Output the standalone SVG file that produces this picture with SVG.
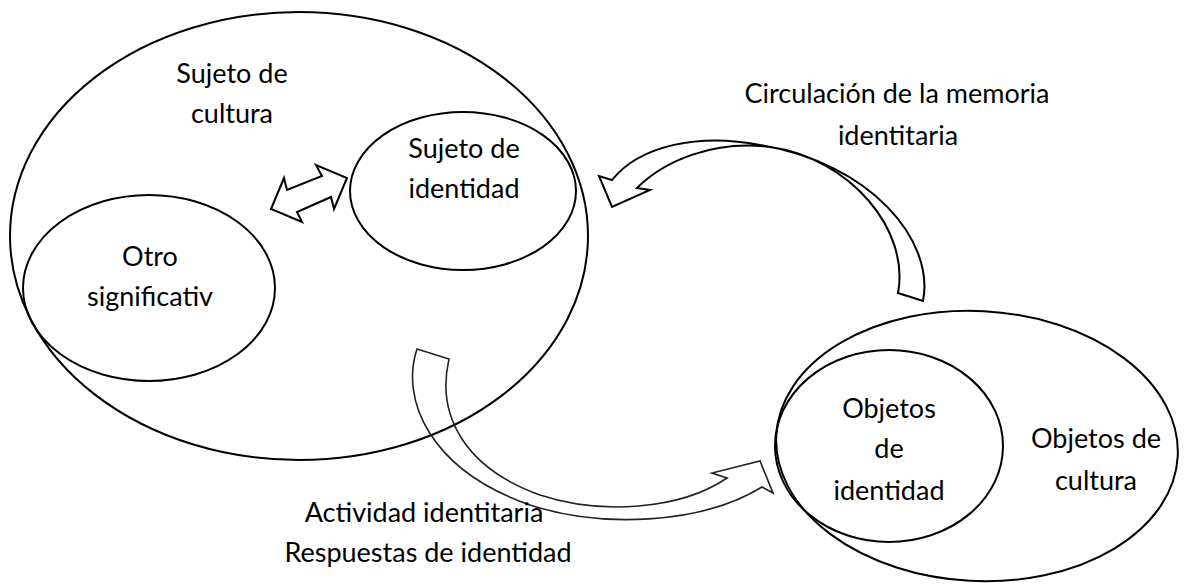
<svg xmlns="http://www.w3.org/2000/svg" width="1185" height="585" viewBox="0 0 1185 585">
<style>
.sh{fill:none;stroke:#000;stroke-width:2}
.ar{fill:#fff;stroke:#000;stroke-width:2;stroke-linejoin:miter}
.ar2{fill:none;stroke:#222;stroke-width:1.6;stroke-linejoin:miter}
text{font-family:Lato,"Open Sans","Liberation Sans",sans-serif;font-size:27px;fill:#000;text-anchor:middle}
</style>
<rect width="1185" height="585" fill="#fff"/>
<g id="sujeto-cultura">
<ellipse class="sh" cx="299" cy="236" rx="289" ry="224"/>
<text x="232" y="83">Sujeto de</text>
<text x="232" y="123">cultura</text>
</g>
<g id="otro-significativ">
<ellipse class="sh" cx="149" cy="288" rx="126" ry="93"/>
<text x="150" y="266">Otro</text>
<text x="150" y="306">significativ</text>
</g>
<g id="sujeto-identidad">
<ellipse class="sh" cx="463" cy="191" rx="113" ry="79"/>
<text x="464" y="158">Sujeto de</text>
<text x="464" y="198">identidad</text>
</g>
<g id="objetos-cultura">
<ellipse class="sh" cx="977" cy="446" rx="201" ry="135" transform="rotate(3 977 446)"/>
<text x="1096" y="448">Objetos de</text>
<text x="1096" y="490">cultura</text>
</g>
<g id="objetos-identidad">
<ellipse class="sh" cx="889" cy="446" rx="114" ry="96"/>
<text x="889" y="418">Objetos</text>
<text x="889" y="458">de</text>
<text x="889" y="500">identidad</text>
</g>
<g id="connectors">
<polygon class="ar" points="271,209 284,178 287,190 322,176 316,165 347,178 334,209 331,197 297,212 302,222"/>
<path class="ar" d="M923,301 C935,240 870,163 760,145 C700,133 640,145 612,180 L599,176 L612,207 L650,190 L637,188 C665,160 715,140 770,147 C850,158 910,230 898,293 Z"/>
<path class="ar2" d="M417,349 C400,400 430,470 530,505 C600,528 700,525 762,487 L773,493 L760,461 L712,473 L727,478 C680,510 600,515 540,495 C470,470 435,420 449,359 Z"/>
<text x="897" y="103">Circulación de la memoria</text>
<text x="898" y="145">identitaria</text>
<text x="424" y="522">Actividad identitaria</text>
<text x="428" y="562">Respuestas de identidad</text>
</g>
</svg>
